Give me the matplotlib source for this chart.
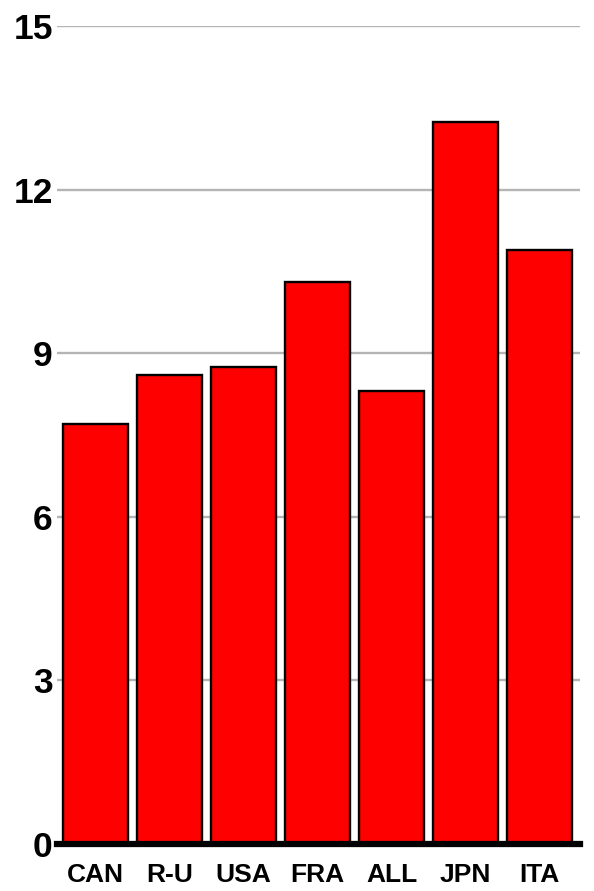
import matplotlib.pyplot as plt

countries = ['CAN', 'R-U', 'USA', 'FRA', 'ALL', 'JPN', 'ITA']
values = [7.7, 8.6, 8.75, 10.3, 8.3, 13.25, 10.9]
yticks = [0, 3, 6, 9, 12, 15]

plt.rcParams['font.family'] = ['Liberation Sans', 'DejaVu Sans']

fig = plt.figure(figsize=(5.94, 8.91), dpi=100)
ax = fig.add_axes([0.096, 0.0527, 0.881, 0.918])

x = range(len(countries))
ax.bar(x, values, width=0.885, color='#ff0000', edgecolor='black', linewidth=1.7, zorder=3)

ax.set_xlim(-0.52, 6.55)
ax.set_ylim(0, 15)
ax.set_yticks(yticks)
ax.set_yticklabels([str(t) for t in yticks], fontsize=25.5, fontweight='bold')
ax.set_xticks(list(x))
ax.set_xticklabels(countries, fontsize=19, fontweight='bold')
ax.tick_params(axis='both', length=0)
ax.tick_params(axis='y', pad=3)
ax.tick_params(axis='x', pad=14)

ax.yaxis.grid(True, color='#b4b4b4', linewidth=1.7, zorder=0)
ax.set_axisbelow(True)

for s in ['top', 'right', 'left']:
    ax.spines[s].set_visible(False)
ax.spines['bottom'].set_linewidth(4.5)
ax.spines['bottom'].set_zorder(4)

fig.savefig('out.png', dpi=100)
